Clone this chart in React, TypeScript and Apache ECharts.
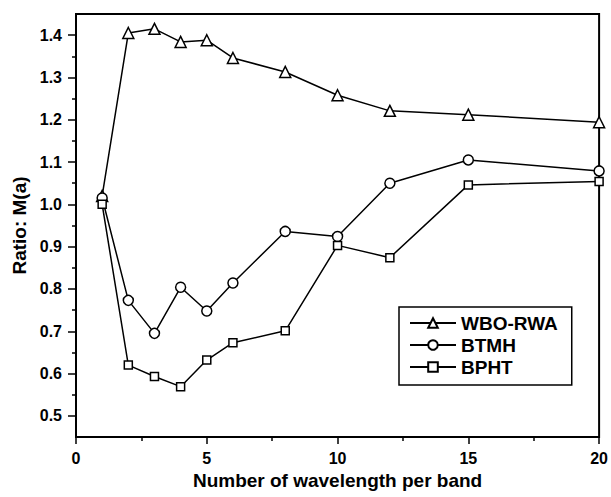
import React, { useEffect, useRef } from "react";
import * as echarts from "echarts";

// Wavelengths per band (x positions shared by all series)
const wavelengths = [1, 2, 3, 4, 5, 6, 8, 10, 12, 15, 20];

// Ratio M(a) for each method
const wboRwa = [1.02, 1.405, 1.415, 1.384, 1.388, 1.346, 1.313, 1.258, 1.221, 1.212, 1.194];
const btmh = [1.015, 0.773, 0.695, 0.804, 0.748, 0.814, 0.936, 0.924, 1.05, 1.105, 1.079];
const bpht = [1.0, 0.62, 0.593, 0.569, 0.632, 0.673, 0.701, 0.903, 0.874, 1.046, 1.054];

const seriesNames = ["WBO-RWA", "BTMH", "BPHT"];
const xTitle = "Number of wavelength per band";
const yTitle = "Ratio: M(a)";

// Y axis: labelled ticks and the half-step minor ticks between them
const yMajorTicks = [0.5, 0.6, 0.7, 0.8, 0.9, 1.0, 1.1, 1.2, 1.3, 1.4];
const yMinorTicks = [0.55, 0.65, 0.75, 0.85, 0.95, 1.05, 1.15, 1.25, 1.35];

const FONT = "'Liberation Sans', Arial, Helvetica, sans-serif";

const pairs = (ys: number[]) => wavelengths.map((x, i) => [x, ys[i]]);

export default function App() {
  const ref = useRef<HTMLDivElement>(null);

  useEffect(() => {
    if (!ref.current) return;
    const chart = echarts.init(ref.current, null, { renderer: "svg" });

    const mkSeries = (name: string, ys: number[], symbol: string, size: number) => ({
      name,
      type: "line",
      data: pairs(ys),
      symbol,
      symbolSize: size,
      showAllSymbol: true,
      yAxisIndex: 0,
      lineStyle: { color: "#000", width: 1.5 },
      itemStyle: { color: "#fff", borderColor: "#000", borderWidth: 1.5 },
      emphasis: { disabled: true },
      z: 3,
    });

    const tickLine = { color: "#000", width: 1.5 };

    chart.setOption({
      animation: false,
      backgroundColor: "#fff",
      grid: {
        left: 76,
        right: 10,
        top: 14,
        bottom: 60,
        show: true,
        borderColor: "#000",
        borderWidth: 2,
        backgroundColor: "transparent",
      },
      xAxis: {
        type: "value",
        min: 0,
        max: 20,
        interval: 5,
        name: xTitle,
        nameLocation: "middle",
        nameGap: 22,
        nameTextStyle: { fontFamily: FONT, fontWeight: "bold", fontSize: 19, color: "#000" },
        axisLine: { show: true, lineStyle: { color: "#000", width: 2 } },
        axisTick: { show: true, length: 7, lineStyle: tickLine },
        minorTick: { show: true, splitNumber: 2, length: 4, lineStyle: tickLine },
        axisLabel: { fontFamily: FONT, fontWeight: "bold", fontSize: 16, color: "#000", margin: 13 },
        splitLine: { show: false },
      },
      yAxis: [
        {
          type: "value",
          min: 0.45,
          max: 1.45,
          position: "left",
          name: yTitle,
          nameLocation: "middle",
          nameGap: 45,
          nameTextStyle: { fontFamily: FONT, fontWeight: "bold", fontSize: 19, color: "#000" },
          axisLine: { show: true, lineStyle: { color: "#000", width: 2 } },
          axisTick: { show: true, length: 8, lineStyle: tickLine, customValues: yMajorTicks },
          axisLabel: {
            fontFamily: FONT,
            fontWeight: "bold",
            fontSize: 16,
            color: "#000",
            margin: 14,
            customValues: yMajorTicks,
            formatter: (v: number) => v.toFixed(1),
          },
          splitLine: { show: false },
        },
        {
          type: "value",
          min: 0.45,
          max: 1.45,
          position: "left",
          offset: 0,
          axisLine: { show: false },
          axisTick: { show: true, length: 4, lineStyle: tickLine, customValues: yMinorTicks },
          axisLabel: { show: false },
          splitLine: { show: false },
        },
      ],
      legend: {
        orient: "vertical",
        left: 399,
        top: 307,
        padding: [6, 14, 8, 10],
        itemWidth: 46,
        itemHeight: 12,
        itemGap: 2,
        borderColor: "#000",
        borderWidth: 1.5,
        backgroundColor: "#fff",
        selectedMode: false,
        textStyle: {
          fontFamily: FONT,
          fontWeight: "bold",
          fontSize: 19,
          color: "#000",
          lineHeight: 20,
        },
        data: seriesNames,
      },
      series: [
        mkSeries(seriesNames[0], wboRwa, "triangle", 11),
        mkSeries(seriesNames[1], btmh, "circle", 10),
        mkSeries(seriesNames[2], bpht, "rect", 8),
      ],
    });

    return () => chart.dispose();
  }, []);

  return (
    <div
      ref={ref}
      style={{ position: "fixed", left: 0, top: 0, width: 611, height: 497, background: "#fff" }}
    />
  );
}
